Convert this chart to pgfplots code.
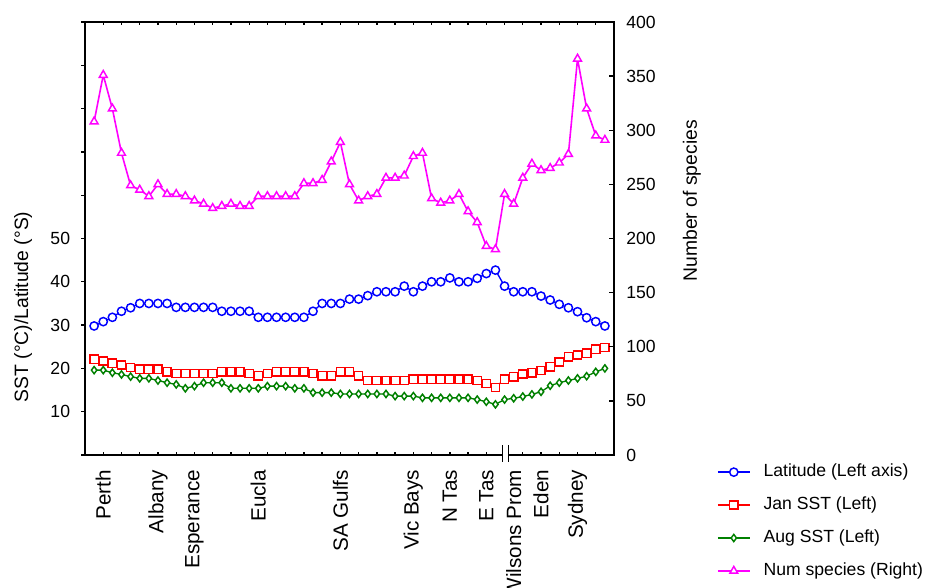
\documentclass[border=0pt]{standalone}
\usepackage{pgfplots}
\pgfplotsset{compat=1.18}
\usepackage{pgfplotstable}
\usepackage{fontspec}
\setmainfont{Liberation Sans}

\definecolor{latblue}{RGB}{0,0,255}
\definecolor{janred}{RGB}{255,0,0}
\definecolor{auggreen}{RGB}{0,128,0}
\definecolor{sppmag}{RGB}{255,0,255}

% site index, latitude (deg S), January SST, August SST, number of species
\pgfplotstableread{
x  lat  jan  aug  spp
1  29.8 22.1 19.6 308
2  30.8 21.7 19.6 351
3  31.8 21.2 19.0 320
4  33.2 20.8 18.6 279
5  34.0 20.2 18.1 249
6  35.0 19.8 17.7 245
7  35.0 19.8 17.7 239
8  35.0 19.8 17.2 250
9  35.0 19.2 16.7 241
10 34.1 18.8 16.3 241
11 34.1 18.8 15.4 239
12 34.1 18.8 15.9 235
13 34.1 18.8 16.7 232
14 34.1 18.8 16.7 228
15 33.2 19.2 16.7 230
16 33.2 19.2 15.4 232
17 33.2 19.2 15.4 230
18 33.2 18.8 15.4 230
19 31.8 18.3 15.4 239
20 31.8 18.8 15.9 239
21 31.8 19.2 15.9 239
22 31.8 19.2 15.9 239
23 31.8 19.2 15.4 239
24 31.8 19.2 15.4 251
25 33.2 18.8 14.4 251
26 35.0 18.3 14.4 254
27 35.0 18.3 14.4 271
28 35.0 19.2 14.1 289
29 36.0 19.2 14.1 250
30 36.0 18.3 14.1 235
31 36.8 17.2 14.1 239
32 37.7 17.2 14.1 241
33 37.7 17.2 14.1 256
34 37.7 17.2 13.6 256
35 39.0 17.2 13.6 258
36 37.7 17.5 13.6 276
37 39.0 17.5 13.2 279
38 40.0 17.5 13.2 237
39 40.0 17.5 13.2 233
40 40.9 17.5 13.2 235
41 40.0 17.5 13.2 241
42 40.0 17.5 13.2 225
43 40.8 17.2 12.8 215
44 41.9 16.5 12.3 193
45 42.7 15.6 11.7 190
46 39.0 17.5 12.8 241
47 37.7 18.1 13.1 232
48 37.7 18.7 13.5 256
49 37.7 19.0 14.0 269
50 36.7 19.5 14.6 263
51 35.8 20.4 16.0 265
52 34.8 21.5 16.7 270
53 34.0 22.7 17.2 278
54 33.1 23.1 17.7 366
55 31.7 23.5 18.2 320
56 30.8 24.4 19.2 295
57 29.8 24.8 20.0 291
}\sitedata

\newcommand{\chartfont}{\fontsize{13.2}{15.8}\selectfont}
\newcommand{\sitefont}{\fontsize{15.5}{18.6}\selectfont}
\newcommand{\titlefont}{\fontsize{14.5}{17.4}\selectfont}

\pgfplotsset{
  latstyle/.style={latblue, line width=1pt, mark=*, mark size=3.1pt,
    mark options={fill=white, line width=1.1pt}},
  janstyle/.style={janred, line width=1pt, mark=square*, mark size=3.1pt,
    mark options={fill=white, line width=1.1pt}},
  augstyle/.style={auggreen, line width=1pt, mark=diamond*, mark size=2.7pt,
    mark options={fill=white, line width=1.1pt}},
  sppstyle/.style={sppmag, line width=1.2pt, mark=triangle*, mark size=3.4pt,
    mark options={fill=white, line width=1.1pt}},
  site axis/.style={
    scale only axis, width=396.75pt, height=324.75pt,
    xmin=0, xmax=58, clip=false,
    axis line style={line width=1.2pt},
    every tick/.style={black, line width=1pt},
    tick label style={font=\chartfont},
    /pgf/number format/assume math mode=true,
  },
}

\begin{document}
\begin{tikzpicture}[font=\chartfont]

% frame and category axis
\begin{axis}[site axis,
  ymin=0, ymax=100, ytick=\empty,
  axis lines=box,
  tick align=inside,
  xtick={2,8,12,19,28,36,40,44,47,50,54},
  xticklabels={Perth,Albany,Esperance,Eucla,SA Gulfs,Vic Bays,N Tas,E Tas,Wilsons Prom,Eden,Sydney},
  major tick length=0pt,
  minor xtick={0,2,...,58},
  minor tick length=2.6pt,
  xtick pos=both,
  xticklabel pos=lower,
  xticklabel style={rotate=90, anchor=east, inner sep=0pt, font=\sitefont},
  xticklabel shift=11pt,
]
\addplot[draw=none] coordinates {(1,0)};
% axis break
\fill[white] ([yshift=-1.5pt]axis cs:45.78,0) rectangle ([yshift=3.5pt]axis cs:46.42,0);
\draw[line width=1pt] ([yshift=7.5pt]axis cs:45.74,0) -- ([yshift=-5pt]axis cs:45.74,0);
\draw[line width=1pt] ([yshift=7.5pt]axis cs:46.46,0) -- ([yshift=-5pt]axis cs:46.46,0);
\end{axis}

% left axis: latitude and sea surface temperature
\begin{axis}[site axis,
  ymin=0, ymax=100,
  axis x line=none,
  axis y line*=left,
  tick align=outside,
  major tick length=3pt,
  ytick={0,10,...,100},
  yticklabels={,10,20,30,40,50,,,,,},
  yticklabel style={inner sep=0pt},
  yticklabel shift=8pt,
]
\addplot[latstyle] table[x=x, y=lat] {\sitedata};
\addplot[janstyle] table[x=x, y=jan] {\sitedata};
\addplot[augstyle] table[x=x, y=aug] {\sitedata};
\node[rotate=90, font=\titlefont] at (axis description cs:-0.117,0.342) {SST (°C)/Latitude (°S)};
\end{axis}

% right axis: number of species
\begin{axis}[site axis,
  ymin=0, ymax=400,
  axis x line=none,
  axis y line*=right,
  tick align=inside,
  major tick length=3.5pt,
  ytick={0,50,...,400},
  yticklabel style={inner sep=0pt},
  yticklabel shift=9pt,
  legend image code/.code={%
    \draw[mark repeat=2, mark phase=2, #1] plot coordinates {(0pt,0pt) (12pt,0pt) (24pt,0pt)};},
  legend cell align=left,
  legend style={at={(axis description cs:1.1947,-0.0208)}, anchor=north west,
    draw=none, fill=none, inner sep=0pt, outer sep=0pt, row sep=12.5pt,
    nodes={inner sep=0pt, text height=9.5pt, text depth=2.7pt},
    /tikz/every odd column/.append style={column sep=9.75pt},
    font=\chartfont},
]
\addlegendimage{latstyle}
\addlegendentry{Latitude (Left axis)}
\addlegendimage{janstyle}
\addlegendentry{Jan SST (Left)}
\addlegendimage{augstyle}
\addlegendentry{Aug SST (Left)}
\addplot[sppstyle] table[x=x, y=spp] {\sitedata};
\addlegendentry{Num species (Right)}
\node[rotate=90, font=\titlefont] at (axis description cs:1.147,0.587) {Number of species};
\end{axis}

\pgfresetboundingbox
\path[use as bounding box] (-63.75pt,-99pt) rectangle (631.5pt,341.25pt);
\end{tikzpicture}
\end{document}
